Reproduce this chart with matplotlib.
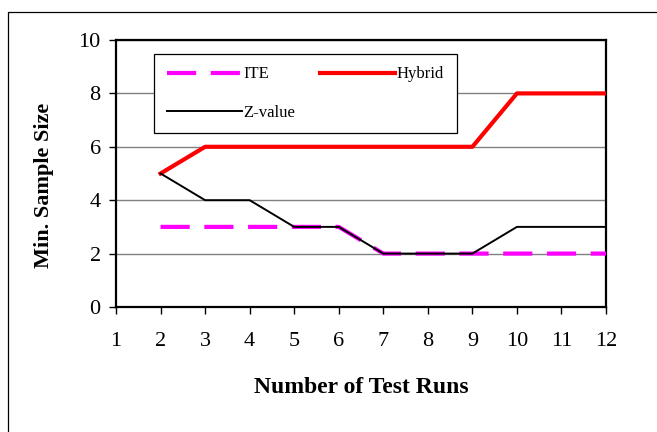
import matplotlib
matplotlib.use("Agg")
import matplotlib.pyplot as plt
from matplotlib.patches import Rectangle

# Data
runs = [2, 3, 4, 5, 6, 7, 8, 9, 10, 11, 12]
ite = [3, 3, 3, 3, 3, 2, 2, 2, 2, 2, 2]
hybrid = [5, 6, 6, 6, 6, 6, 6, 6, 8, 8, 8]
zvalue = [5, 4, 4, 3, 3, 2, 2, 2, 3, 3, 3]
x_ticks = list(range(1, 13))
y_ticks = [0, 2, 4, 6, 8, 10]

plt.rcParams["font.family"] = ["Liberation Serif", "DejaVu Serif"]

fig = plt.figure(figsize=(6.57, 4.32), dpi=100)
ax = fig.add_axes([0.1766, 0.2894, 0.7458, 0.618])

# Outer chart border (Excel style)
fig.patches.append(Rectangle((8 / 657, -0.1), 1.2, (432 - 12) / 432 + 0.1,
                             transform=fig.transFigure, fill=False,
                             edgecolor="black", linewidth=0.9))

ax.plot(runs, ite, color="#FF00FF", linewidth=3, dashes=(7, 3.5), label="ITE",
        zorder=3)
ax.plot(runs, zvalue, color="black", linewidth=1.4, label="Z-value", zorder=4)
ax.plot(runs, hybrid, color="#FF0000", linewidth=3, label="Hybrid", zorder=3)

ax.set_xlim(1, 12)
ax.set_ylim(0, 10)
ax.set_xticks(x_ticks)
ax.set_yticks(y_ticks)
ax.tick_params(axis="both", direction="out", length=5, width=1, labelsize=16)
ax.tick_params(axis="x", pad=13)
ax.tick_params(axis="y", pad=6)

ax.grid(axis="y", color="#808080", linewidth=1)
ax.set_axisbelow(True)
for s in ax.spines.values():
    s.set_linewidth(1.6)

ax.set_xlabel("Number of Test Runs", fontsize=17, fontweight="bold")
ax.set_ylabel("Min. Sample Size", fontsize=16, fontweight="bold")
ax.xaxis.set_label_coords(0.5, -0.262)
ax.yaxis.set_label_coords(-0.127, 0.457)

leg = ax.legend(loc="upper left", bbox_to_anchor=(0.078, 0.948), ncol=2,
                fontsize=12, handlelength=4.5, handletextpad=0.1,
                columnspacing=1.5, labelspacing=1.35, borderpad=0.75,
                borderaxespad=0, fancybox=False, framealpha=1)
leg.get_frame().set_edgecolor("black")
leg.get_frame().set_linewidth(0.9)

fig.savefig("out.png", dpi=100)
